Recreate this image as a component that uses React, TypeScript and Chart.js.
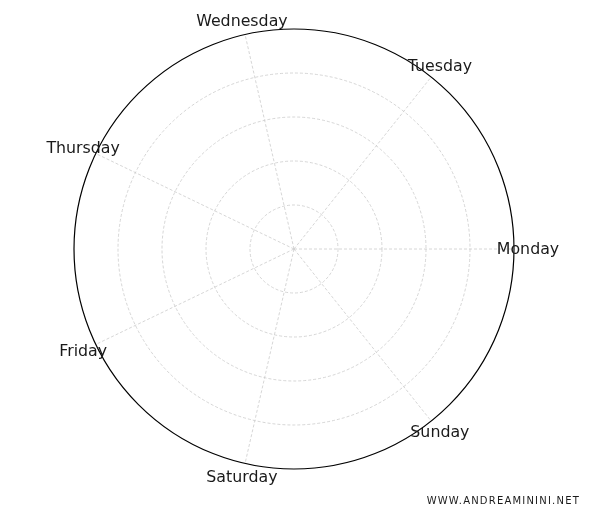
import React, { useEffect, useRef } from 'react';
import { Chart, registerables } from 'chart.js';

Chart.register(...registerables);

// days counter-clockwise from the right, as in the reference
const days = ['Monday', 'Tuesday', 'Wednesday', 'Thursday', 'Friday', 'Saturday', 'Sunday'];
// Chart.js goes clockwise, so flip the order after Monday
const chartLabels = [days[0], ...days.slice(1).reverse()];
const ringTicks = [0, 1, 2, 3, 4, 5];

const dayLabelsPlugin = {
  id: 'dayLabels',
  afterDraw(chart: any) {
    const scale = chart.scales.r;
    const ctx = chart.ctx;
    ctx.save();
    ctx.font = '15.8px "DejaVu Sans"';
    ctx.fillStyle = '#1a1a1a';
    ctx.textAlign = 'center';
    ctx.textBaseline = 'middle';
    chartLabels.forEach((label, i) => {
      const p = scale.getPointPosition(i, scale.drawingArea + 14);
      ctx.fillText(label, p.x, p.y + 1);
    });
    ctx.restore();
  },
};

const App: React.FC = () => {
  const chartRef = useRef<HTMLCanvasElement>(null);
  const chartInstance = useRef<Chart | null>(null);

  useEffect(() => {
    if (!chartRef.current) return;
    const ctx = chartRef.current.getContext('2d');
    if (!ctx) return;
    const last = ringTicks[ringTicks.length - 1];

    chartInstance.current = new Chart(ctx, {
      type: 'radar',
      data: {
        labels: chartLabels,
        datasets: [],
      },
      options: {
        animation: false,
        responsive: true,
        maintainAspectRatio: false,
        layout: { padding: { left: 74, right: 86, top: 29, bottom: 46 } },
        plugins: {
          legend: { display: false },
          tooltip: { enabled: false },
        },
        scales: {
          r: {
            min: ringTicks[0],
            max: last,
            startAngle: 90,
            ticks: { display: false, stepSize: 1 },
            pointLabels: { display: false },
            angleLines: { color: '#cccccc', lineWidth: 0.8, borderDash: [3, 2] },
            grid: {
              circular: true,
              color: (c: any) => (c.index === ringTicks.length - 1 ? '#000000' : '#cccccc'),
              lineWidth: (c: any) => (c.index === ringTicks.length - 1 ? 1.2 : 0.8),
            },
            border: {
              dash: (c: any) => (c.index === ringTicks.length - 1 ? [] : [3, 2]),
            },
          },
        },
      } as any,
      plugins: [dayLabelsPlugin],
    });

    return () => {
      if (chartInstance.current) {
        chartInstance.current.destroy();
      }
    };
  }, []);

  return (
    <div style={{ position: 'fixed', left: 0, top: 0, width: 600, height: 515, background: '#fff' }}>
      <canvas ref={chartRef} />
      <div
        style={{
          position: 'absolute',
          right: 20,
          top: 495,
          fontFamily: '"DejaVu Sans"',
          fontSize: 10,
          letterSpacing: 1.2,
          color: '#1a1a1a',
        }}
      >
        WWW.ANDREAMININI.NET
      </div>
    </div>
  );
};

export default App;
